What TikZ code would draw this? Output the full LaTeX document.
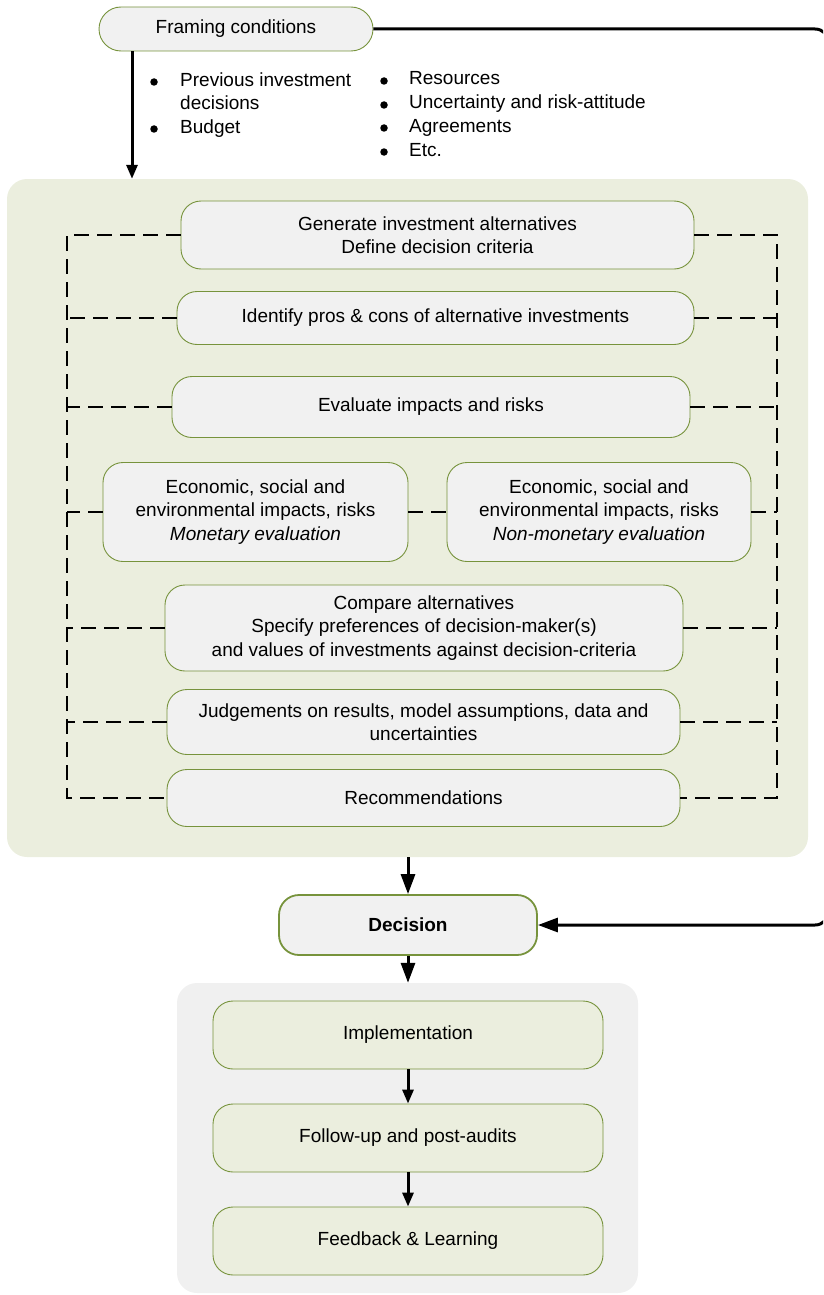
\documentclass[tikz,border=0pt]{standalone}
\usepackage{fontspec}
\setmainfont{Liberation Sans}
\usetikzlibrary{arrows.meta,calc}
\definecolor{panelgreen}{HTML}{EBEEDE}
\definecolor{panelgray}{HTML}{F0F0F0}
\definecolor{boxfill}{HTML}{F1F1F1}
\definecolor{boxedge}{HTML}{77933C}
\begin{document}
\begin{tikzpicture}[x=1pt,y=-1pt,
  txt/.style={font=\fontsize{19}{23.5}\selectfont},
  box/.style={draw=boxedge, line width=0.9pt, fill=boxfill, rounded corners=20pt,
    align=center, inner sep=0pt, txt},
  gbox/.style={box, fill=panelgreen},
  panel/.style={rounded corners=20pt, inner sep=0pt},
  flow/.style={line width=3pt, -{Triangle[length=20pt,width=14pt]}},
  small flow/.style={line width=3pt, -{Triangle[length=14pt,width=11pt]}},
  dsh/.style={line width=2pt, dash pattern=on 15pt off 8pt},
  bul/.style={circle, fill=black, inner sep=0pt, minimum size=7.5pt},
  itm/.style={anchor=base west, inner sep=0pt, align=left, txt}]
\useasboundingbox (0,0) rectangle (823,1295);
\clip (0,0) rectangle (823,1295);

% background panels
\node[panel, fill=panelgreen, minimum width=801pt, minimum height=678pt] (pgreen) at (407.5,518) {};
\node[panel, fill=panelgray, minimum width=461pt, minimum height=310pt] (pgray) at (407.5,1138) {};

% guide coordinates for the dashed frame and outer connectors
\coordinate (lx) at (67,0);
\coordinate (rx) at (777,0);
\coordinate (fx) at (132,0);
\coordinate (rr) at (829,0);

% framing conditions and their list (item nodes sit on the baseline of their last line)
\node[box, rounded corners=22pt, minimum width=274pt, minimum height=44pt] (frm) at (236,29) {Framing conditions};

\node[bul] (b1) at (154,82) {};
\node[itm] (i1) at (180,110) {Previous investment\\decisions};
\node[bul] (b2) at (154,129) {};
\node[itm] (i2) at (180,133) {Budget};
\node[bul] (b3) at (384,81) {};
\node[itm] (i3) at (409,85) {Resources};
\node[bul] (b4) at (384,105) {};
\node[itm] (i4) at (409,109) {Uncertainty and risk-attitude};
\node[bul] (b5) at (384,128) {};
\node[itm] (i5) at (409,132) {Agreements};
\node[bul] (b6) at (384,152) {};
\node[itm] (i6) at (409,156) {Etc.};

% analysis steps
\node[box, minimum width=513pt, minimum height=68pt] (gen) at (437.5,235)
  {Generate investment alternatives\\Define decision criteria};
\node[box, minimum width=517pt, minimum height=53pt] (pros) at (435.5,318)
  {Identify pros \& cons of alternative investments};
\node[box, minimum width=518pt, minimum height=61pt] (eval) at (431,407)
  {Evaluate impacts and risks};
\node[box, minimum width=305pt, minimum height=99pt] (mon) at (255.5,512)
  {Economic, social and\\environmental impacts, risks\\\textit{Monetary evaluation}};
\node[box, minimum width=304pt, minimum height=99pt] (nmon) at (599,512)
  {Economic, social and\\environmental impacts, risks\\\textit{Non-monetary evaluation}};
\node[box, minimum width=518pt, minimum height=86pt] (cmp) at (424,628)
  {Compare alternatives\\Specify preferences of decision-maker(s)\\and values of investments against decision-criteria};
\node[box, minimum width=513pt, minimum height=65pt] (jdg) at (423.5,722)
  {Judgements on results, model assumptions, data and\\uncertainties};
\node[box, minimum width=513pt, minimum height=57pt] (rec) at (423.5,798)
  {Recommendations};

% dashed frame linking the steps
\draw[dsh] (gen.west) -- (gen.west -| lx) -- (rec.west -| lx) -- (rec.west);
\draw[dsh] (gen.east) -- (gen.east -| rx) -- (rec.east -| rx) -- (rec.east);
\foreach \n in {pros,eval,cmp,jdg}{
  \draw[dsh] (\n.west) -- (\n.west -| lx);
  \draw[dsh] (\n.east) -- (\n.east -| rx);
}
\draw[dsh] (mon.west) -- (mon.west -| lx);
\draw[dsh] (nmon.east) -- (nmon.east -| rx);
\draw[dsh] (mon.east) -- (nmon.west);

% decision
\node[box, line width=1.8pt, minimum width=258pt, minimum height=60pt] (dec) at (408,925)
  {\bfseries Decision};

% follow-up steps
\node[gbox, minimum width=390pt, minimum height=68pt] (imp) at (408,1035) {Implementation};
\node[gbox, minimum width=390pt, minimum height=68pt] (fol) at (408,1138) {Follow-up and post-audits};
\node[gbox, minimum width=390pt, minimum height=68pt] (fbk) at (408,1241) {Feedback \& Learning};

% connectors
\draw[small flow] (frm.south -| fx) -- (pgreen.north -| fx);
\draw[flow, rounded corners=14pt] (frm.east) -- (frm.east -| rr) -- (dec.east -| rr) -- (dec.east);
\draw[flow] (pgreen.south -| dec) -- (dec.north);
\draw[flow] (dec.south) -- (pgray.north -| dec);
\draw[small flow] (imp.south) -- (fol.north);
\draw[small flow] (fol.south) -- (fbk.north);
\end{tikzpicture}
\end{document}
